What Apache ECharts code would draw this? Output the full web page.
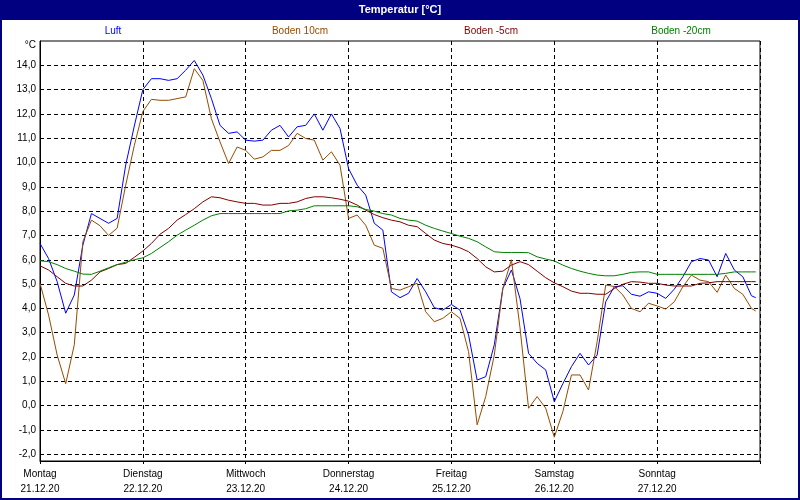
<!DOCTYPE html>
<html>
<head>
<meta charset="utf-8">
<script src="https://cdn.jsdelivr.net/npm/echarts@6/dist/echarts.min.js"></script>
<style>
html, body { margin: 0; padding: 0; background: #fff; }
#chart { width: 800px; height: 500px; }
</style>
</head>
<body>
<div id="chart"></div>
<script>
// Stunden seit Montag 00:00
var hours = [0, 2, 4, 6, 8, 10, 12, 14, 16, 18, 20, 22, 24, 26, 28,
    30, 32, 34, 36, 38, 40, 42, 44, 46, 48, 50, 52, 54, 56,
    58, 60, 62, 64, 66, 68, 70, 72, 74, 76, 78, 80, 82, 84,
    86, 88, 90, 92, 94, 96, 98, 100, 102, 104, 106, 108, 110, 112,
    114, 116, 118, 120, 122, 124, 126, 128, 130, 132, 134, 136, 138, 140,
    142, 144, 146, 148, 150, 152, 154, 156, 158, 160, 162, 164, 166, 167]

var luft = [6.67, 6.05, 5.1, 3.8, 4.55, 6.6, 7.9, 7.7, 7.5, 7.7, 9.9, 11.5, 13.0, 13.45, 13.45,
    13.38, 13.45, 13.8, 14.2, 13.6, 12.63, 11.53, 11.2, 11.26, 10.92, 10.88, 10.92, 11.33, 11.53,
    11.05, 11.47, 11.53, 12.0, 11.33, 12.0, 11.4, 9.75, 9.07, 8.66, 7.5, 7.22, 4.68, 4.44,
    4.62, 5.23, 4.68, 4.03, 3.93, 4.16, 3.93, 2.9, 1.05, 1.19, 2.5, 4.82, 5.58, 4.4,
    2.15, 1.74, 1.47, 0.16, 0.9, 1.6, 2.15, 1.67, 2.08, 4.27, 4.89, 4.93, 4.58, 4.5,
    4.68, 4.62, 4.41, 4.79, 5.3, 5.92, 6.05, 5.99, 5.3, 6.26, 5.58, 5.3, 4.52, 4.44]

var boden10 = [5.03, 3.73, 2.08, 0.9, 2.5, 6.74, 7.63, 7.4, 7.0, 7.3, 9.07, 10.7, 12.1, 12.6, 12.56,
    12.56, 12.63, 12.7, 13.86, 13.38, 11.8, 10.85, 9.96, 10.64, 10.5, 10.14, 10.23, 10.5, 10.5,
    10.7, 11.2, 10.99, 10.92, 10.1, 10.44, 9.89, 7.7, 7.84, 7.42, 6.6, 6.47, 4.82, 4.75,
    4.89, 5.03, 3.86, 3.45, 3.59, 3.86, 3.59, 2.22, -0.79, 0.37, 2.08, 4.82, 6.0, 3.2,
    -0.11, 0.37, -0.11, -1.3, -0.25, 1.26, 1.26, 0.64, 2.63, 4.96, 4.9, 4.55, 4.0, 3.86,
    4.21, 4.1, 3.97, 4.27, 4.89, 5.37, 5.16, 5.1, 4.66, 5.37, 4.82, 4.58, 4.0, 3.89]

var boden5 = [5.75, 5.58, 5.3, 5.03, 4.92, 4.92, 5.16, 5.5, 5.64, 5.8, 5.85, 6.1, 6.36, 6.67, 7.05,
    7.29, 7.63, 7.86, 8.1, 8.38, 8.59, 8.55, 8.45, 8.38, 8.32, 8.32, 8.25, 8.25, 8.32,
    8.32, 8.38, 8.52, 8.59, 8.59, 8.55, 8.49, 8.41, 8.25, 8.04, 7.86, 7.73, 7.63, 7.56,
    7.42, 7.36, 7.08, 6.81, 6.67, 6.6, 6.49, 6.33, 6.05, 5.71, 5.5, 5.53, 5.78, 5.92,
    5.8, 5.53, 5.26, 5.05, 4.89, 4.71, 4.62, 4.62, 4.58, 4.58, 4.82, 4.99, 5.1, 5.08,
    5.03, 5.03, 4.96, 4.92, 4.92, 4.92, 5.03, 5.05, 5.1, 5.1, 5.1, 5.1, 5.1, 5.1]

var boden20 = [5.96, 5.92, 5.8, 5.64, 5.53, 5.41, 5.4, 5.53, 5.67, 5.8, 5.9, 6.0, 6.08, 6.26, 6.5,
    6.74, 7.01, 7.22, 7.42, 7.63, 7.81, 7.9, 7.9, 7.9, 7.9, 7.9, 7.9, 7.9, 7.9,
    8.01, 8.04, 8.1, 8.22, 8.22, 8.22, 8.22, 8.22, 8.18, 8.07, 8.0, 7.9, 7.84, 7.7,
    7.63, 7.59, 7.42, 7.29, 7.18, 7.08, 6.97, 6.88, 6.74, 6.53, 6.33, 6.3, 6.3, 6.3,
    6.29, 6.12, 6.03, 5.95, 5.78, 5.64, 5.53, 5.44, 5.37, 5.34, 5.34, 5.4, 5.48, 5.5,
    5.5, 5.4, 5.4, 5.4, 5.4, 5.4, 5.4, 5.4, 5.4, 5.44, 5.5, 5.5, 5.5, 5.5]

var dayNames = ['Montag', 'Dienstag', 'Mittwoch', 'Donnerstag', 'Freitag', 'Samstag', 'Sonntag']
var dayDates = ['21.12.20', '22.12.20', '23.12.20', '24.12.20', '25.12.20', '26.12.20', '27.12.20']
var yTicks = [-2, -1, 0, 1, 2, 3, 4, 5, 6, 7, 8, 9, 10, 11, 12, 13, 14]

var seriesNames = ['Luft', 'Boden 10cm', 'Boden -5cm', 'Boden -20cm']
var seriesColors = ['#0000ff', '#964b00', '#800000', '#008000']

var font = 'Liberation Sans'

function pairs (vals) {
    return vals.map(function (v, i) { return [hours[i], v] })
}

var chart = echarts.init(document.getElementById('chart'))

var legendX = [113, 300, 491, 681]
var graphics = [
    { type: 'rect', shape: { x: 0, y: 0, width: 800, height: 20 }, style: { fill: '#000080' }, silent: true },
    { type: 'rect', shape: { x: 1, y: 1, width: 798, height: 498 }, style: { fill: null, stroke: '#000080', lineWidth: 2 }, silent: true },
    { type: 'text', x: 400, y: 10, style: { text: 'Temperatur [°C]', fill: '#fff', font: 'bold 11px ' + font, align: 'center', verticalAlign: 'middle' } },
    { type: 'text', x: 36, y: 45, style: { text: '°C', fill: '#000', font: '10px ' + font, align: 'right', verticalAlign: 'middle' } }
]
seriesNames.forEach(function (n, i) {
    graphics.push({ type: 'text', x: legendX[i], y: 31, style: { text: n, fill: seriesColors[i], font: '10px ' + font, align: 'center', verticalAlign: 'middle' } })
})

var dashed = { show: true, lineStyle: { color: '#000', type: [4, 3], width: 1 } }

var option = {
    animation: false,
    backgroundColor: '#fff',
    graphic: graphics,
    grid: {
        left: 40,
        right: 40,
        top: 41,
        bottom: 39,
        show: true,
        borderColor: '#000',
        borderWidth: 1
    },
    xAxis: {
        type: 'value',
        min: 0,
        max: 168,
        interval: 24,
        axisLine: { onZero: false, lineStyle: { color: '#000' } },
        axisTick: { show: true, length: 3, lineStyle: { color: '#000' } },
        splitLine: dashed,
        axisLabel: {
            color: '#000',
            fontFamily: font,
            fontSize: 10,
            lineHeight: 15,
            margin: 6,
            formatter: function (v) {
                var i = Math.round(v / 24)
                return i < 7 ? dayNames[i] + '\n' + dayDates[i] : ''
            }
        }
    },
    yAxis: {
        type: 'value',
        min: -2.28,
        max: 15,
        axisLine: { show: true, onZero: false, lineStyle: { color: '#000' } },
        axisTick: { show: false, customValues: yTicks },
        splitLine: dashed,
        axisLabel: {
            color: '#000',
            fontFamily: font,
            fontSize: 10,
            margin: 4,
            customValues: yTicks,
            formatter: function (v) { return v.toFixed(1).replace('.', ',') }
        }
    },
    series: [luft, boden10, boden5, boden20].map(function (vals, i) {
        return {
            name: seriesNames[i],
            type: 'line',
            data: pairs(vals),
            showSymbol: false,
            lineStyle: { color: seriesColors[i], width: 1 },
            itemStyle: { color: seriesColors[i] }
        }
    })
}

chart.setOption(option)
</script>
</body>
</html>
